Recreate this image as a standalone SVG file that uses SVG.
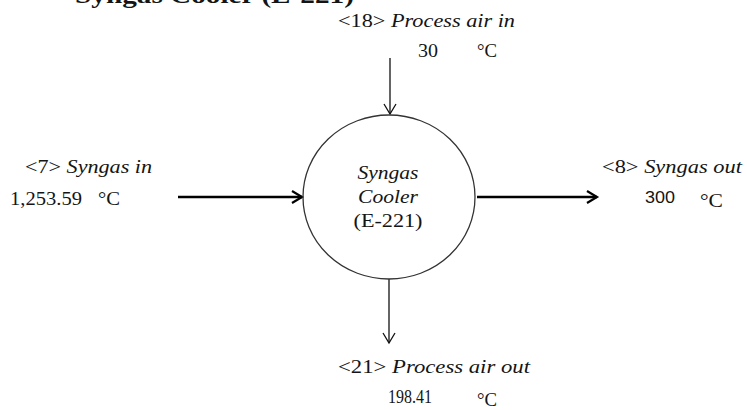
<svg xmlns="http://www.w3.org/2000/svg" width="747" height="410" viewBox="0 0 747 410">
<style>
  text { font-family: "Liberation Serif", "Times New Roman", serif; font-size: 18px; fill: #141414; }
  .it { font-style: italic; }
  .title { font-weight: bold; font-size: 23px; }
  .sans { font-family: "Liberation Sans", Arial, sans-serif; font-size: 17px; }
  .thick { stroke: #000; stroke-width: 2.4; fill: none; }
  .thin { stroke: #111; stroke-width: 1.3; fill: none; }
</style>
<defs>
  <marker id="headThick" markerUnits="userSpaceOnUse" markerWidth="14" markerHeight="16" refX="11" refY="7" orient="auto">
    <path d="M1,1 L11,7 L1,13" fill="none" stroke="#000" stroke-width="2.2"/>
  </marker>
  <marker id="headThin" markerUnits="userSpaceOnUse" markerWidth="14" markerHeight="16" refX="11" refY="7" orient="auto">
    <path d="M1,1 L11,7 L1,13" fill="none" stroke="#111" stroke-width="1.3"/>
  </marker>
</defs>

<text class="title" x="75" y="2.5" textLength="279" lengthAdjust="spacingAndGlyphs">Syngas Cooler (E-221)</text>

<g id="connectors">
  <line class="thin" x1="390" y1="58" x2="390" y2="114" marker-end="url(#headThin)"/>
  <line class="thick" x1="178" y1="197" x2="302" y2="197" marker-end="url(#headThick)"/>
  <line class="thick" x1="477" y1="197" x2="597" y2="197" marker-end="url(#headThick)"/>
  <line class="thin" x1="389" y1="279" x2="389" y2="343" marker-end="url(#headThin)"/>
</g>

<g id="syngas-cooler">
  <ellipse cx="389" cy="197" rx="86" ry="82" fill="none" stroke="#333" stroke-width="1.3"/>
  <text class="it" x="388" y="179" text-anchor="middle" textLength="61" lengthAdjust="spacingAndGlyphs">Syngas</text>
  <text class="it" x="388" y="203" text-anchor="middle" textLength="60" lengthAdjust="spacingAndGlyphs">Cooler</text>
  <text x="388" y="227" text-anchor="middle" textLength="69" lengthAdjust="spacingAndGlyphs">(E-221)</text>
</g>

<g id="stream-18">
  <text x="338" y="27" textLength="177" lengthAdjust="spacingAndGlyphs">&lt;18&gt; <tspan class="it">Process air in</tspan></text>
  <text x="418" y="57" textLength="20" lengthAdjust="spacingAndGlyphs">30</text>
  <text x="477" y="57" textLength="20" lengthAdjust="spacingAndGlyphs">°C</text>
</g>

<g id="stream-7">
  <text x="25" y="173" textLength="127" lengthAdjust="spacingAndGlyphs">&lt;7&gt; <tspan class="it">Syngas in</tspan></text>
  <text x="10" y="205" textLength="72" lengthAdjust="spacingAndGlyphs">1,253.59</text>
  <text x="98" y="205" textLength="22" lengthAdjust="spacingAndGlyphs">°C</text>
</g>

<g id="stream-8">
  <text x="602" y="173" textLength="140" lengthAdjust="spacingAndGlyphs">&lt;8&gt; <tspan class="it">Syngas out</tspan></text>
  <text class="sans" x="645" y="203" textLength="30" lengthAdjust="spacingAndGlyphs">300</text>
  <text x="700" y="207" textLength="23" lengthAdjust="spacingAndGlyphs">°C</text>
</g>

<g id="stream-21">
  <text x="338" y="373" textLength="192" lengthAdjust="spacingAndGlyphs">&lt;21&gt; <tspan class="it">Process air out</tspan></text>
  <text x="388" y="403" textLength="44" lengthAdjust="spacingAndGlyphs">198.41</text>
  <text x="477" y="406" textLength="20" lengthAdjust="spacingAndGlyphs">°C</text>
</g>
</svg>
